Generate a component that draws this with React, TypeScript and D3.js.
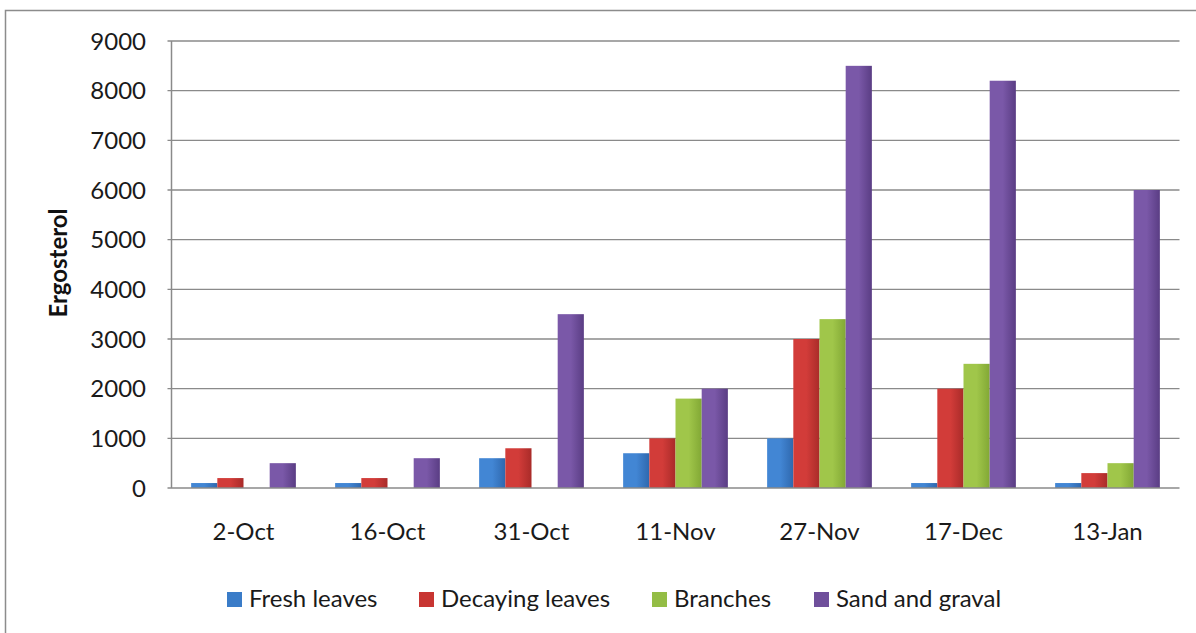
import React from "react";
import * as d3 from "d3";

const categories = ["2-Oct", "16-Oct", "31-Oct", "11-Nov", "27-Nov", "17-Dec", "13-Jan"];
const seriesNames = ["Fresh leaves", "Decaying leaves", "Branches", "Sand and graval"];
const freshLeaves = [100, 100, 600, 700, 1000, 100, 100];
const decayingLeaves = [200, 200, 800, 1000, 3000, 2000, 300];
const branches = [0, 0, 0, 1800, 3400, 2500, 500];
const sandAndGraval = [500, 600, 3500, 2000, 8500, 8200, 6000];
const yTicks = [0, 1000, 2000, 3000, 4000, 5000, 6000, 7000, 8000, 9000];
const seriesColors = [
  ["#4286d4", "#2f68ae"],
  ["#d23c39", "#a92b29"],
  ["#a0c64a", "#82a835"],
  ["#7a58a8", "#5a3d84"],
];
const legendMarkColors = ["#3a7cc8", "#c83532", "#94bd45", "#6f4f9b"];

export default function App() {
  const W = 1196, H = 633;
  const left = 171.5, right = 1179.5, top = 41, bottom = 488;
  const series = [freshLeaves, decayingLeaves, branches, sandAndGraval];
  const x0 = d3.scaleBand<string>().domain(categories).range([left, right]).paddingInner(0).paddingOuter(0);
  const step = x0.step();
  const barW = step / 5.5;
  const groupOffset = (step - barW * 4) / 2;
  const x1 = d3.scaleBand<number>().domain([0, 1, 2, 3]).range([groupOffset, groupOffset + barW * 4]).padding(0);
  const y = d3.scaleLinear().domain([0, 9000]).range([bottom, top]);
  const font = "Lato, Calibri, 'Open Sans', sans-serif";
  const legendX = [227, 419, 652, 814];

  return (
    <svg width={W} height={H} style={{ position: "absolute", left: 0, top: 0, background: "#fff" }}>
      <defs>
        {seriesColors.map((c, i) => (
          <linearGradient key={i} id={`g${i}`} x1="0" x2="1" y1="0" y2="0">
            <stop offset="0" stopColor={c[0]} />
            <stop offset="0.5" stopColor={c[0]} />
            <stop offset="1" stopColor={c[1]} />
          </linearGradient>
        ))}
      </defs>
      <rect x={0} y={0} width={W} height={H} fill="#fff" />
      <rect x={5.5} y={10.5} width={1250} height={700} fill="none" stroke="#8c8c8c" strokeWidth={1.5} />
      {yTicks.map((t) => (
        <g key={t}>
          {t > 0 && (
            <line x1={left - 4} x2={right} y1={y(t)} y2={y(t)} stroke="#8a8a8a" strokeWidth={1.3} />
          )}
          <text x={146} y={y(t)} dy="0.36em" textAnchor="end" fontFamily={font} fontSize={24} fill="#1a1a1a">
            {t}
          </text>
        </g>
      ))}
      {categories.map((c, ci) => (
        <g key={c} transform={`translate(${x0(c)},0)`}>
          {series.map((s, si) => {
            const v = s[ci];
            if (v <= 0) return null;
            return (
              <rect
                key={si}
                x={x1(si)}
                y={y(v)}
                width={x1.bandwidth()}
                height={y(0) - y(v)}
                fill={`url(#g${si})`}
              />
            );
          })}
          <text x={step / 2} y={540} textAnchor="middle" fontFamily={font} fontSize={24} fill="#1a1a1a">
            {c}
          </text>
        </g>
      ))}
      <line x1={left} x2={left} y1={top} y2={bottom} stroke="#8a8a8a" strokeWidth={1.5} />
      <line x1={left - 4} x2={right} y1={bottom} y2={bottom} stroke="#8a8a8a" strokeWidth={1.5} />
      <text
        transform={`translate(67,263) rotate(-90)`}
        textAnchor="middle"
        fontFamily={font}
        fontWeight="bold"
        fontSize={24}
        fill="#111"
      >
        Ergosterol
      </text>
      {seriesNames.map((n, i) => (
        <g key={n}>
          <rect x={legendX[i]} y={592} width={15} height={15} fill={legendMarkColors[i]} />
          <text x={legendX[i] + 22} y={607} fontFamily={font} fontSize={24} fill="#1a1a1a">
            {n}
          </text>
        </g>
      ))}
    </svg>
  );
}
